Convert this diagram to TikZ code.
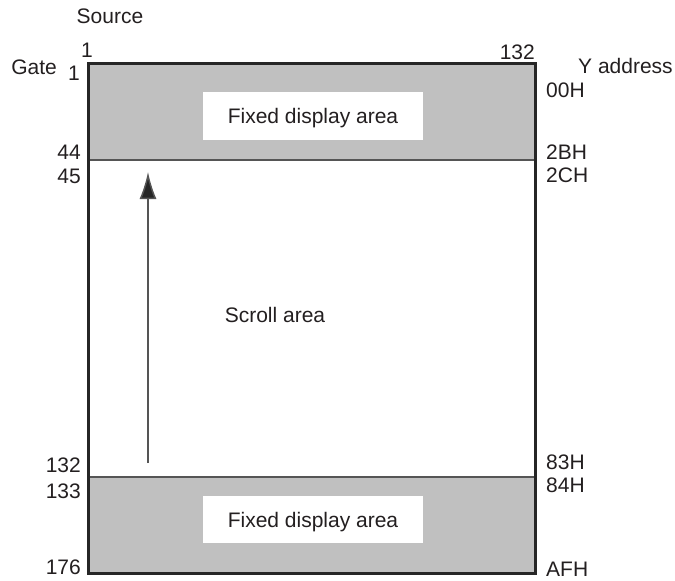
\documentclass[tikz,border=0pt]{standalone}
\usepackage{fontspec}
\setmainfont{Liberation Sans}
\usepackage{xcolor}
\usepackage{tikz}
\usetikzlibrary{arrows.meta}
\definecolor{lcdgray}{HTML}{C0C0C0}
\definecolor{lcdline}{HTML}{555555}
\definecolor{lcdframe}{HTML}{262626}
\definecolor{lcdtext}{HTML}{231F20}

\begin{document}
\begin{tikzpicture}[x=1pt,y=-1pt,
    lbl/.style={font=\fontsize{21}{25}\selectfont,text=lcdtext,inner sep=0pt,text height=15pt,text depth=0pt},
    areabox/.style={lbl,fill=white,minimum width=220pt}]
      \useasboundingbox (0,0) rectangle (675,581);
      % fixed bands and rule lines
      \fill[lcdgray] (88,63) rectangle (535,160);
      \fill[lcdgray] (88,477) rectangle (535,573);
      \draw[lcdline,line width=2pt] (88,160) -- (535,160);
      \draw[lcdline,line width=2pt] (88,477) -- (535,477);
      \draw[lcdframe,line width=3pt] (88,63) rectangle (535,573);
      \node[areabox,minimum height=48pt] (fixtop) at (313,116) {Fixed display area};
      \node[areabox,minimum height=47pt] (fixbot) at (313,519.5) {Fixed display area};
      \node[lbl] (scroll) at (275,315) {Scroll area};
      % scroll direction
      \coordinate (arrlow) at (148,463);
      \coordinate (arrtop) at (148,172);
      \draw[lcdline,line width=1.5pt,-{Latex[length=27pt,width=17pt,fill=lcdframe]}] (arrlow) -- (arrtop);
      % column and row numbers
      \node[lbl] (src) at (110,16) {Source};
      \node[lbl] (s1) at (87,50) {1};
      \node[lbl,anchor=east] (s132) at (535,52) {132};
      \node[lbl,anchor=east] (gate) at (57,67) {Gate};
      \node[lbl,anchor=east] (g1) at (80,72.5) {1};
      \node[lbl,anchor=east] (g44) at (81,151.5) {44};
      \node[lbl,anchor=east] (g45) at (81,175.5) {45};
      \node[lbl,anchor=east] (g132) at (81,465) {132};
      \node[lbl,anchor=east] (g133) at (81,491) {133};
      \node[lbl,anchor=east] (g176) at (81,566.5) {176};
      \node[lbl,anchor=west] (yaddr) at (578,66) {Y address};
      \node[lbl,anchor=west] (y00) at (546,89.5) {00H};
      \node[lbl,anchor=west] (y2b) at (546,151.5) {2BH};
      \node[lbl,anchor=west] (y2c) at (546,175) {2CH};
      \node[lbl,anchor=west] (y83) at (546,462) {83H};
      \node[lbl,anchor=west] (y84) at (546,485) {84H};
      \node[lbl,anchor=west] (yaf) at (546,569) {AFH};
\end{tikzpicture}
\end{document}
